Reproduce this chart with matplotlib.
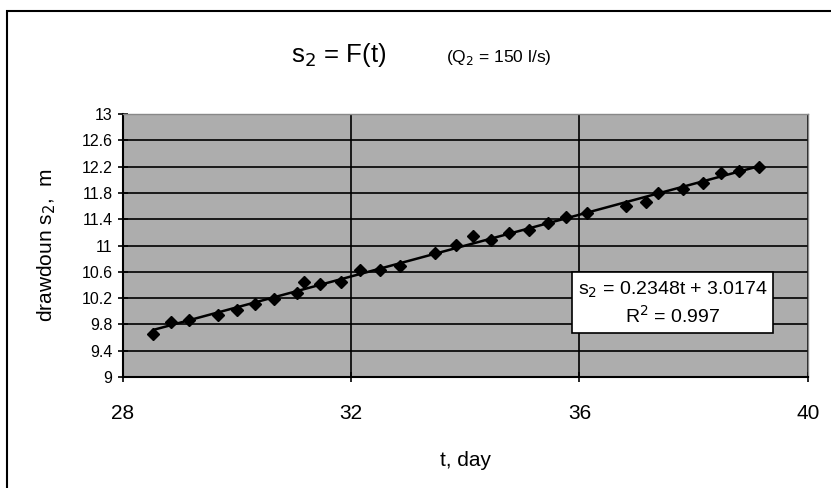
import numpy as np
import matplotlib.pyplot as plt

t_day = [28.53, 28.84, 29.16, 29.66, 29.99, 30.32, 30.64, 31.05, 31.18, 31.46,
         31.82, 32.16, 32.51, 32.85, 33.46, 33.84, 34.13, 34.45, 34.77, 35.12,
         35.44, 35.77, 36.14, 36.82, 37.17, 37.37, 37.81, 38.16, 38.48, 38.80,
         39.15]
s2_m = [9.65, 9.83, 9.87, 9.95, 10.02, 10.11, 10.18, 10.28, 10.44, 10.41,
        10.45, 10.63, 10.63, 10.69, 10.89, 11.01, 11.14, 11.09, 11.19, 11.24,
        11.35, 11.44, 11.49, 11.60, 11.67, 11.80, 11.86, 11.95, 12.10, 12.13,
        12.20]

# linear trend from the chart label
slope = 0.2348
intercept = 3.0174
r2 = 0.997

x_ticks = [28, 32, 36, 40]
y_ticks = [9, 9.4, 9.8, 10.2, 10.6, 11, 11.4, 11.8, 12.2, 12.6, 13]

plt.rcParams['font.family'] = ['Liberation Sans Narrow', 'Liberation Sans', 'DejaVu Sans']

fig = plt.figure(figsize=(8.31, 4.88), dpi=100)
ax = fig.add_axes([0.148, 0.2275, 0.824, 0.5385])

# outer chart border
fig.patches.append(plt.Rectangle((7 / 831, -0.05), 1.0, 1 - 11 / 488 + 0.05,
                                 transform=fig.transFigure, fill=False,
                                 edgecolor='black', linewidth=1.5))

ax.set_facecolor('#adadad')
ax.set_xlim(28, 40)
ax.set_ylim(9, 13)
ax.set_xticks(x_ticks)
ax.set_yticks(y_ticks)
ax.set_yticklabels([f'{v:g}' for v in y_ticks], fontsize=11.5,
                   family=['Liberation Sans', 'DejaVu Sans'])
ax.set_xticklabels([str(v) for v in x_ticks], fontsize=15)
ax.tick_params(axis='both', direction='inout', length=7, width=1.2, color='black')
ax.tick_params(axis='x', pad=16)
ax.tick_params(axis='y', pad=4)

ax.grid(True, color='black', linewidth=1.2)
ax.set_axisbelow(True)
for side in ['top', 'right']:
    ax.spines[side].set_color('#888888')
    ax.spines[side].set_linewidth(1)
for side in ['left', 'bottom']:
    ax.spines[side].set_linewidth(1.5)

# trend line
tt = np.array([t_day[0], t_day[-1]])
ax.plot(tt, slope * tt + intercept, color='black', linewidth=1.8, zorder=3)
ax.plot(t_day, s2_m, linestyle='none', marker='D', markersize=6,
        color='black', zorder=4)

ax.text(37.63, 10.12, f's$_2$ = {slope}t + {intercept}\nR$^2$ = {r2}',
        ha='center', va='center', fontsize=14, linespacing=1.3,
        bbox=dict(boxstyle='square,pad=0.3', facecolor='white',
                  edgecolor='black', linewidth=1.2), zorder=5)

ax.set_xlabel('t, day', fontsize=15, labelpad=20)
ax.set_ylabel('drawdoun s$_2$,  m', fontsize=15, labelpad=17,
              family=['Liberation Sans', 'DejaVu Sans'])

fig.text(0.408, 0.887, 's$_2$ = F(t)', fontsize=18.5, ha='center', va='center')
fig.text(0.600, 0.882, '(Q$_2$ = 150 l/s)', fontsize=12.5, ha='center', va='center')

plt.savefig('out.png', dpi=100)
